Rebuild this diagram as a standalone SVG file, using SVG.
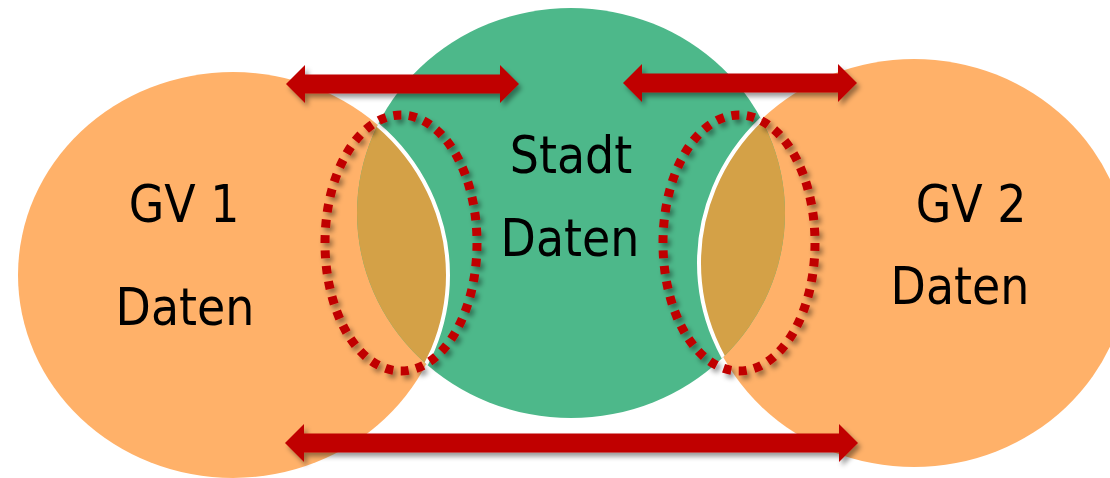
<svg xmlns="http://www.w3.org/2000/svg" width="1110" height="478" viewBox="0 0 1110 478">
  <style>
    .orange { fill: #FFB169; }
    .green { fill: #4DB88A; }
    .lens { fill: #D4A147; }
    .edge { fill: none; stroke: #FFFFFF; stroke-width: 4; }
    .dots { fill: none; stroke: #C00000; stroke-width: 9; stroke-dasharray: 8 7.5; filter: url(#shadow); }
    .arrow { fill: #C00000; filter: url(#shadow); }
    .label { font-family: 'DejaVu Sans Condensed', 'DejaVu Sans', sans-serif; font-stretch: condensed; font-size: 51px; fill: #000000; text-anchor: middle; }
  </style>
  <defs>
    <filter id="shadow" x="-20%" y="-50%" width="140%" height="200%">
      <feDropShadow dx="3" dy="4" stdDeviation="2.5" flood-color="#000000" flood-opacity="0.4"/>
    </filter>
    <clipPath id="clipL"><ellipse cx="233" cy="275" rx="215" ry="203"/></clipPath>
    <clipPath id="clipR"><ellipse cx="914" cy="263" rx="215" ry="204"/></clipPath>
    <clipPath id="clipG"><ellipse cx="571" cy="213" rx="214" ry="205"/></clipPath>
  </defs>

  <g id="gv1">
    <ellipse class="orange" cx="233" cy="275" rx="215" ry="203"/>
  </g>
  <g id="gv2">
    <ellipse class="orange" cx="914" cy="263" rx="215" ry="204"/>
  </g>
  <g id="stadt">
    <ellipse class="green" cx="571" cy="213" rx="214" ry="205"/>
  </g>

  <g id="overlap-left">
    <ellipse class="lens" cx="571" cy="213" rx="214" ry="205" clip-path="url(#clipL)"/>
    <ellipse class="edge" cx="233" cy="275" rx="215" ry="203" clip-path="url(#clipG)"/>
    <ellipse class="dots" cx="401" cy="243" rx="76" ry="128"/>
  </g>
  <g id="overlap-right">
    <ellipse class="lens" cx="571" cy="213" rx="214" ry="205" clip-path="url(#clipR)"/>
    <ellipse class="edge" cx="914" cy="263" rx="215" ry="204" clip-path="url(#clipG)"/>
    <ellipse class="dots" cx="739" cy="243" rx="76" ry="128"/>
  </g>

  <g id="connectors">
    <polygon class="arrow" points="286,84 305,65 305,74.5 500,74.5 500,65 519,84 500,103 500,93.5 305,93.5 305,103"/>
    <polygon class="arrow" points="623,83 642,64 642,73.5 838,73.5 838,64 857,83 838,102 838,92.5 642,92.5 642,102"/>
    <polygon class="arrow" points="285,443 304,424 304,433.5 839,433.5 839,424 858,443 839,462 839,452.5 304,452.5 304,462"/>
  </g>

  <g id="labels">
    <text class="label" x="184" y="222">GV 1</text>
    <text class="label" x="185" y="325">Daten</text>
    <text class="label" x="571" y="173">Stadt</text>
    <text class="label" x="570" y="256">Daten</text>
    <text class="label" x="971" y="222">GV 2</text>
    <text class="label" x="960" y="304">Daten</text>
  </g>
</svg>
